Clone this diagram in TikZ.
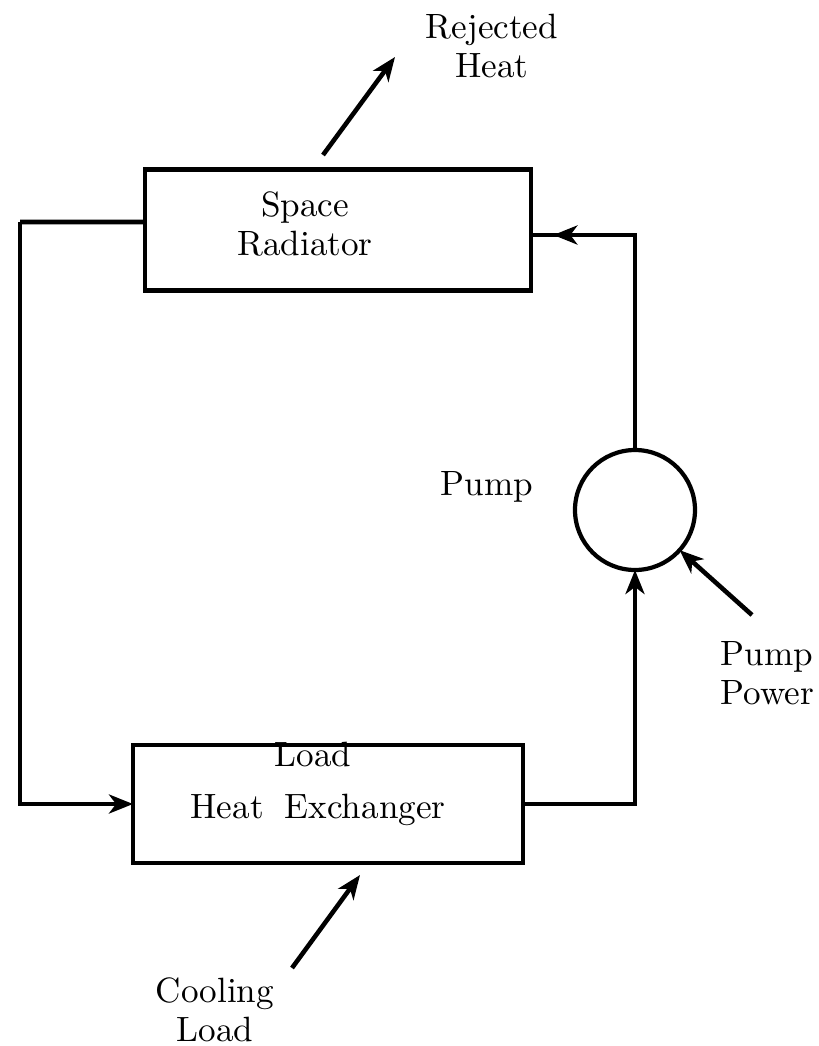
\documentclass[tikz,border=0pt]{standalone}
\usetikzlibrary{arrows.meta, positioning, calc, decorations.markings}

\tikzset{
  unitbox/.style={draw, line width=1.2pt, inner sep=0pt, outer sep=0pt},
  pipe/.style={line width=1.3pt},
  flow/.style={line width=1.3pt, -{Stealth[length=2.4mm, width=1.9mm, inset=0.7mm]}},
  lbl/.style={font=\fontsize{10}{11}\selectfont, align=center, inner sep=0pt},
}

\begin{document}
\begin{tikzpicture}[x=0.1mm, y=-0.1mm]

  \useasboundingbox (0,0) rectangle (818,1046);

  % components
  \node[unitbox, minimum width=38.6mm, minimum height=12.1mm] (rad) at (338,230) {};
  \node[lbl] (radtxt) at (305,224) {Space\\Radiator};

  \node[unitbox, minimum width=39mm, minimum height=11.8mm] (hx) at (328,804) {};
  \node[lbl] (hxtop) at (313,754) {Load};
  \node[lbl] (hxtxt) at (318,810) {Heat\hspace{0.6em}Exchanger};

  \node[unitbox, circle, minimum size=12mm] (pump) at (635,510) {};
  \node[lbl] (pumptxt) at (487,487) {Pump};

  % outer labels
  \node[lbl] (rej) at (492,46) {Rejected\\Heat};
  \node[lbl, align=left, anchor=west] (pwr) at (720,673) {Pump\\Power};
  \node[lbl] (cool) at (215,1010) {Cooling\\Load};

  \coordinate (rejtail) at (323,155);
  \coordinate (rejtip) at (395,57);
  \coordinate (cooltail) at (292,968);
  \coordinate (cooltip) at (360,875);
  \coordinate (pwrtail) at (752,615);
  \coordinate (leftcorner) at (20,222);

  % coolant loop
  \draw[pipe] ([yshift=0.8mm]rad.west) -- (leftcorner);
  \draw[flow] (leftcorner) |- (hx.west);
  \draw[flow] (hx.east) -| (pump.south);
  \draw[pipe, postaction={decorate},
        decoration={markings, mark=at position 0.93 with {\arrow{Stealth[length=2.4mm, width=1.9mm, inset=0.7mm]}}}]
    (pump.north) |- ([yshift=-0.5mm]rad.east);

  % heat and power flows
  \draw[flow] (rejtail) -- (rejtip);
  \draw[flow] (cooltail) -- (cooltip);
  \draw[flow] (pwrtail) -- (pump.-42);

\end{tikzpicture}
\end{document}
